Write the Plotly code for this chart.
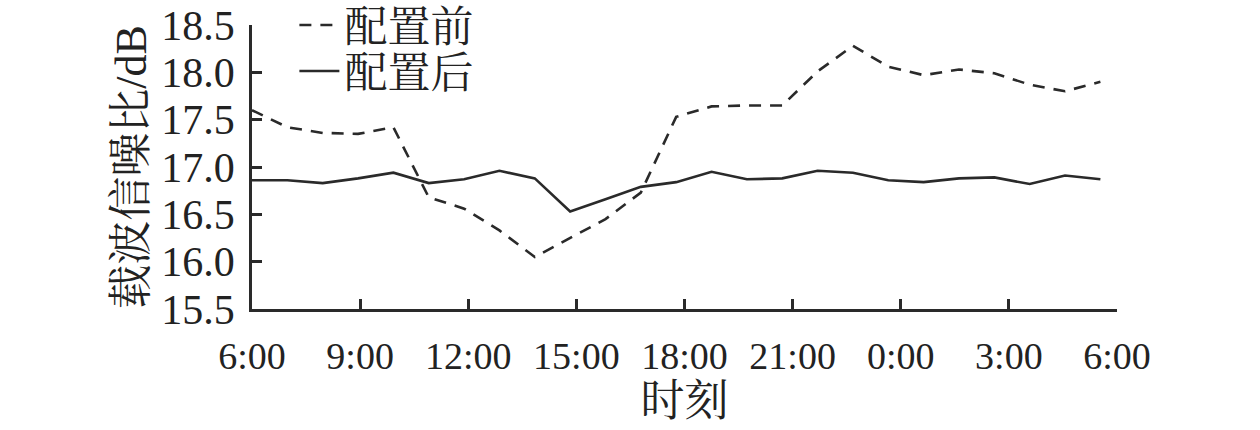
import plotly.graph_objects as go

hours = list(range(25))  # hourly samples starting at 6:00
before = [17.60, 17.42, 17.36, 17.35, 17.42, 16.68, 16.56, 16.33, 16.05, 16.25,
          16.45, 16.73, 17.53, 17.64, 17.65, 17.65, 18.01, 18.28, 18.06, 17.97,
          18.03, 17.99, 17.87, 17.80, 17.90]
after = [16.86, 16.86, 16.83, 16.88, 16.94, 16.83, 16.87, 16.96, 16.88, 16.53,
         16.66, 16.79, 16.84, 16.95, 16.87, 16.88, 16.96, 16.94, 16.86, 16.84,
         16.88, 16.89, 16.82, 16.91, 16.87]
tick_labels = ["6:00", "9:00", "12:00", "15:00", "18:00", "21:00", "0:00", "3:00", "6:00"]
y_ticks = [15.5, 16.0, 16.5, 17.0, 17.5, 18.0, 18.5]

x_end = 24.47
tickvals = [x_end * i / 8 for i in range(9)]

FONT = "Liberation Serif, Times New Roman, Noto Serif CJK SC, Noto Sans CJK SC"
COLOR = "#2a2a2a"

fig = go.Figure()
fig.add_trace(go.Scatter(x=hours, y=before, mode="lines", name="配置前", legend="legend",
                         line=dict(color=COLOR, width=2.6, dash="12px,9px")))
fig.add_trace(go.Scatter(x=hours, y=after, mode="lines", name="配置后", legend="legend2",
                         line=dict(color=COLOR, width=2.6)))

leg_common = dict(xanchor="left", yanchor="middle", bgcolor="rgba(0,0,0,0)",
                  font=dict(size=43, family=FONT, color="#222"), itemwidth=40)

fig.update_layout(
    width=1260, height=430,
    margin=dict(l=252, r=143, t=25, b=121, autoexpand=False),
    paper_bgcolor="white", plot_bgcolor="white",
    font=dict(family=FONT, size=38, color="#222"),
    showlegend=True,
    legend=dict(x=0.049, y=1.0, **leg_common),
    legend2=dict(x=0.049, y=0.838, **leg_common),
    xaxis=dict(range=[0, x_end], tickvals=tickvals, ticktext=tick_labels,
               showgrid=False, zeroline=False, showline=True, linecolor=COLOR,
               linewidth=2.6, ticks="inside", ticklen=10, tickwidth=2.6,
               tickcolor=COLOR, ticklabelstandoff=12, tickfont=dict(size=38),
               ticklabeloverflow="allow",
               title=dict(text="时刻", font=dict(size=44), standoff=0)),
    yaxis=dict(range=[15.5, 18.5], tickvals=y_ticks, ticktext=[f"{v:.1f}" for v in y_ticks],
               showgrid=False, zeroline=False, showline=True, linecolor=COLOR,
               linewidth=2.6, ticks="inside", ticklen=10, tickwidth=2.6,
               tickcolor=COLOR, ticklabelstandoff=6, tickfont=dict(size=42),
               ticklabeloverflow="allow",
               title=dict(text="载波信噪比/dB", font=dict(size=44), standoff=1)),
)

# remove the browser's default body margin so the figure fills the window exactly
fig.write_html("out.html", config={"displayModeBar": False},
               post_script="document.body.style.margin='0';")
